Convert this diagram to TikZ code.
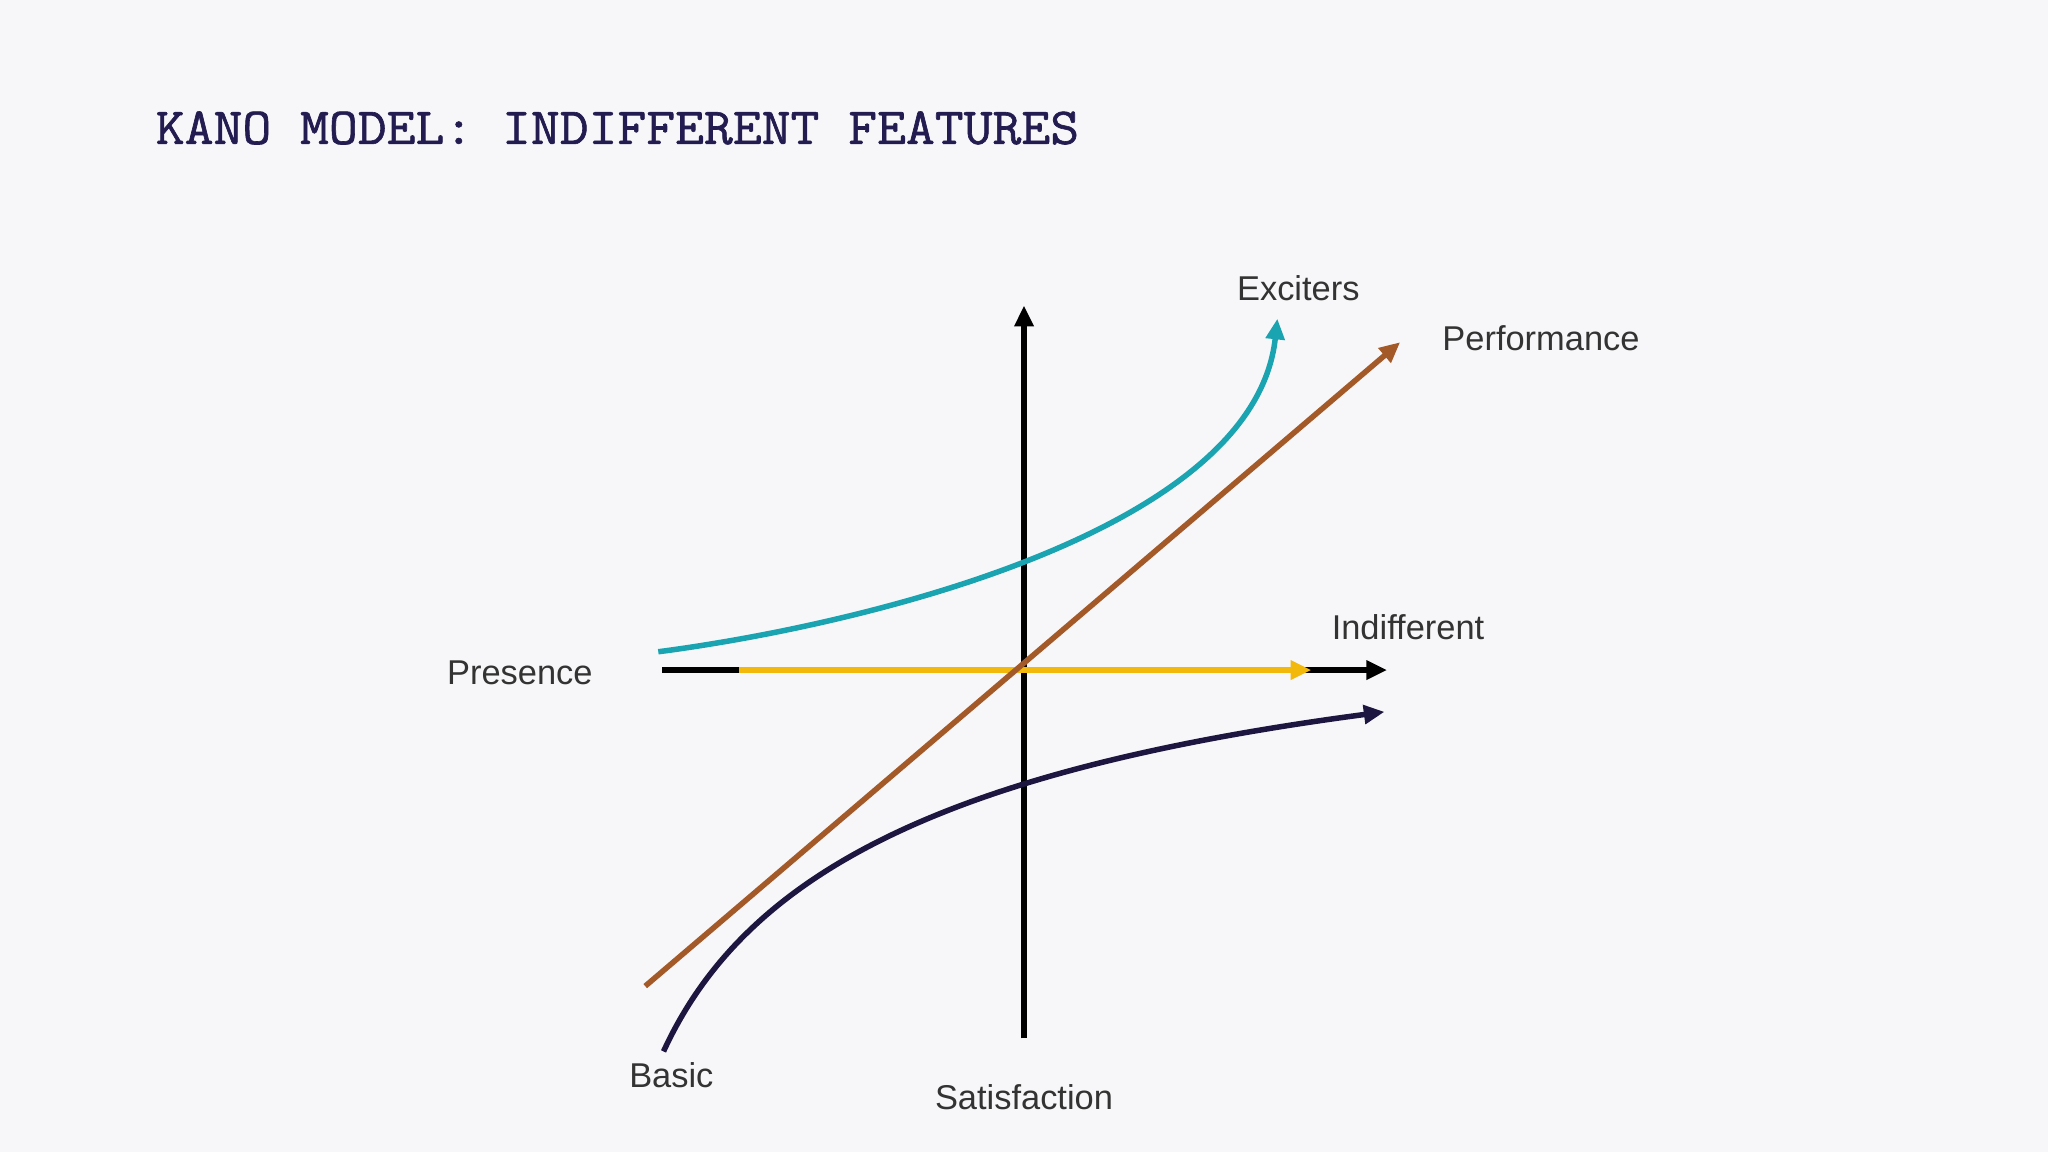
\documentclass[tikz,border=0pt]{standalone}
\usepackage{fontspec}
\setmainfont{Liberation Sans}
\newfontfamily\titlefont[AutoFakeBold=1.2,FakeStretch=1.08]{Latin Modern Mono}
\usetikzlibrary{arrows.meta}
\definecolor{bgc}{HTML}{F7F7F9}
\definecolor{titlec}{HTML}{221C50}
\definecolor{labc}{HTML}{333333}
\definecolor{tealc}{HTML}{1AA3B0}
\definecolor{brownc}{HTML}{A35A28}
\definecolor{navyc}{HTML}{1C1640}
\definecolor{yellowc}{HTML}{F2B90C}
\tikzset{
  curve/.style={line width=2.4pt,-{Triangle[length=9pt,width=8pt]}},
  lab/.style={font=\fontsize{15}{18}\selectfont,text=labc,inner sep=0pt}
}
\begin{document}
\begin{tikzpicture}[x=0.2mm,y=-0.2mm]
\useasboundingbox (0,0) rectangle (1568,882);
\fill[bgc] (0,0) rectangle (1568,882);
\node[anchor=west,inner sep=0pt,text=titlec,font=\titlefont\bfseries\fontsize{22.6}{26}\selectfont] (title) at (119,98) {KANO MODEL: INDIFFERENT FEATURES};
% axes
\coordinate (vb) at (784,795); \coordinate (vt) at (784,234);
\coordinate (hl) at (507,513); \coordinate (hr) at (1062,513);
\draw[curve,black] (vb) -- (vt);
\draw[curve,black] (hl) -- (hr);
\coordinate (yl) at (566,513); \coordinate (yr) at (1004,513);
\draw[curve,yellowc] (yl) -- (yr);
% performance
\coordinate (pl) at (494,755); \coordinate (pr) at (1072,262);
\draw[curve,brownc] (pl) -- (pr);
% exciters
\coordinate (el) at (504,499); \coordinate (er) at (978,244);
\draw[curve,tealc] (el) .. controls (650,480) and (960,410) .. (er);
% basic
\coordinate (bl) at (508,805); \coordinate (br) at (1060,545);
\draw[curve,navyc] (bl) .. controls (570,670) and (720,590) .. (br);
% labels
\node[lab] (exc) at (994,221) {Exciters};
\node[lab,anchor=west] (perf) at (1104,259) {Performance};
\node[lab] (ind) at (1078,480) {Indifferent};
\node[lab] (pres) at (398,515) {Presence};
\node[lab] (basic) at (514,823) {Basic};
\node[lab] (sat) at (784,840) {Satisfaction};
\end{tikzpicture}
\end{document}
